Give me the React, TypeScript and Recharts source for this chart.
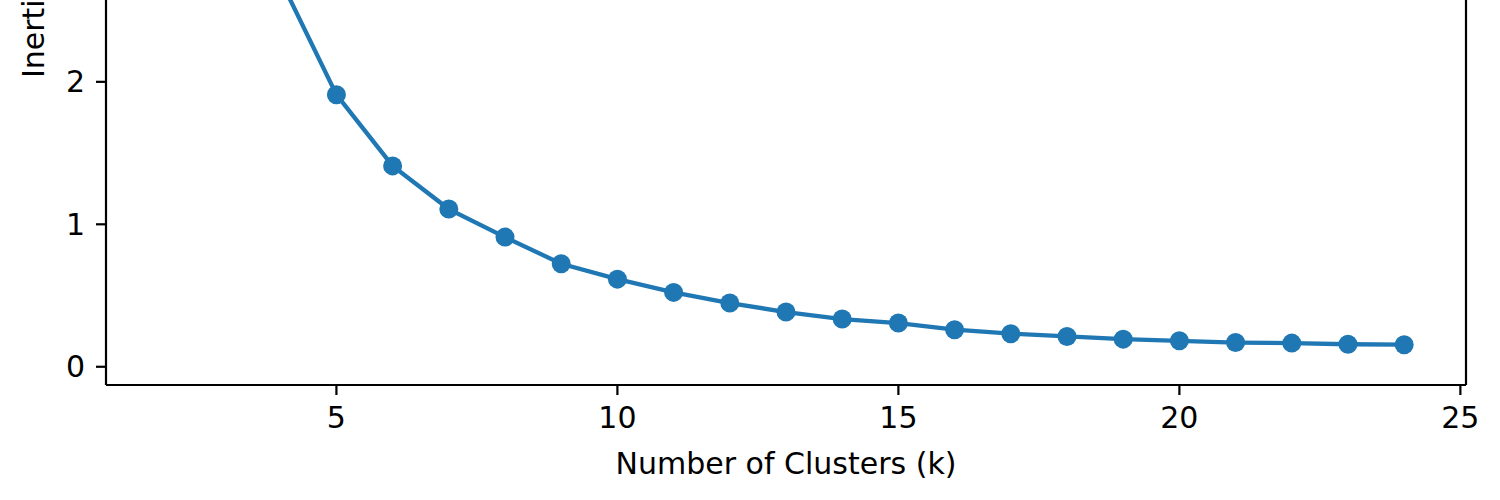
import { Line, LineChart, ReferenceLine, XAxis, YAxis } from "recharts"

const clusterCounts = [2, 3, 4, 5, 6, 7, 8, 9, 10, 11, 12, 13, 14, 15, 16, 17, 18, 19, 20, 21, 22, 23, 24]
const inertiaValues = [
  5.25, 3.75, 2.72, 1.91, 1.41, 1.107, 0.91, 0.723, 0.615, 0.522, 0.447, 0.384, 0.335, 0.307, 0.26, 0.232,
  0.213, 0.194, 0.182, 0.17, 0.166, 0.158, 0.155,
]
const xTicks = [5, 10, 15, 20, 25]
// only the ticks that fall inside the visible crop
const yTicks = [0, 1, 2]

const data = clusterCounts.map((k, i) => ({ k, inertia: inertiaValues[i] }))

const BLUE = "#1f77b4"
const FONT = "DejaVu Sans"
const X_DOMAIN: [number, number] = [0.9, 25.1]
const Y_DOMAIN: [number, number] = [-0.128, 4.947]
const axisStyle = { stroke: "#000", strokeWidth: 2.2 }
const tickStyle = { fill: "#000", fontSize: 30, fontFamily: FONT }

function XLabel({ viewBox }: any) {
  const { x, y, width } = viewBox
  return (
    <text x={x + width / 2} y={y + 89} textAnchor="middle" fontSize={30} fontFamily={FONT} fill="#000">
      Number of Clusters (k)
    </text>
  )
}

function YLabel({ viewBox }: any) {
  const { x, y, height } = viewBox
  const bx = x + 24
  const cy = y + height / 2 + 6
  return (
    <text
      x={bx}
      y={cy}
      transform={`rotate(-90, ${bx}, ${cy})`}
      textAnchor="middle"
      fontSize={30}
      fontFamily={FONT}
      fill="#000"
    >
      Inertia
    </text>
  )
}

export default function App() {
  return (
    <div
      style={{
        position: "fixed",
        left: 0,
        top: 0,
        width: 1500,
        height: 500,
        overflow: "hidden",
        background: "#fff",
      }}
    >
      <div style={{ position: "absolute", left: 0, top: -348 }}>
        <LineChart width={1500} height={848} data={data} margin={{ top: 10, right: 34, bottom: 45, left: 20 }}>
          <XAxis
            dataKey="k"
            type="number"
            domain={X_DOMAIN}
            allowDataOverflow
            ticks={xTicks}
            height={70}
            tickSize={10}
            tickMargin={12}
            axisLine={axisStyle}
            tickLine={axisStyle}
            tick={tickStyle}
            label={XLabel}
          />
          <YAxis
            type="number"
            domain={Y_DOMAIN}
            allowDataOverflow
            ticks={yTicks}
            width={86}
            tickSize={10}
            tickMargin={11}
            axisLine={axisStyle}
            tickLine={axisStyle}
            tick={tickStyle}
            label={YLabel}
          />
          <ReferenceLine x={X_DOMAIN[1]} stroke="#000" strokeWidth={2.2} ifOverflow="visible" />
          <ReferenceLine y={Y_DOMAIN[1]} stroke="#000" strokeWidth={2.2} ifOverflow="visible" />
          <Line
            type="linear"
            dataKey="inertia"
            stroke={BLUE}
            strokeWidth={4.3}
            dot={{ r: 9.5, fill: BLUE, stroke: BLUE, strokeWidth: 0 }}
            activeDot={false}
            isAnimationActive={false}
          />
        </LineChart>
      </div>
    </div>
  )
}
